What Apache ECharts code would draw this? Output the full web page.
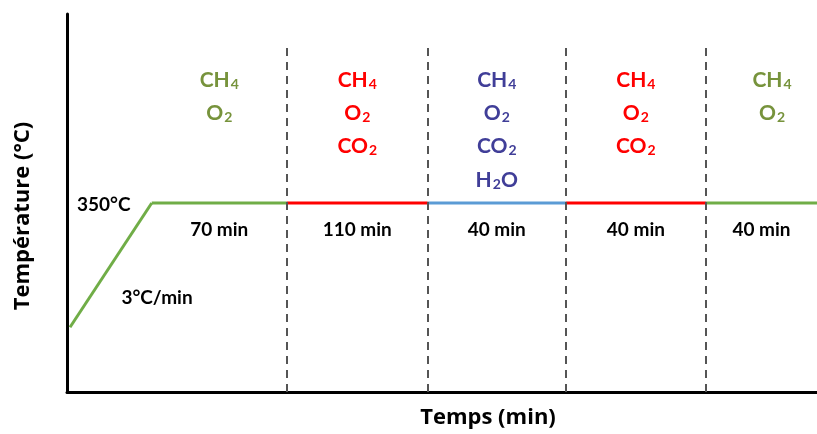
<!DOCTYPE html>
<html><head><meta charset="utf-8">
<script src="https://cdn.jsdelivr.net/npm/echarts@6/dist/echarts.min.js"></script>
<style>html,body{margin:0;padding:0;background:#fff}#c{width:817px;height:434px}</style>
</head><body><div id="c"></div>
<script>
// schematic time positions of the phase boundaries (x axis, 0..100)
const boundaries = [0.4, 11.3, 29.3, 48.1, 66.5, 85.2, 100];
const temps = [120, 350, 350, 350, 350, 350, 350];
const durations = ['70 min', '110 min', '40 min', '40 min', '40 min'];
const gases = [
  ['CH4', 'O2'],
  ['CH4', 'O2', 'CO2'],
  ['CH4', 'O2', 'CO2', 'H2O'],
  ['CH4', 'O2', 'CO2'],
  ['CH4', 'O2']
];
const gasRowY = [578, 517, 456, 393];
const dividers = [29.3, 48.1, 66.5, 85.2];
const phaseColors = ['#70AD47', '#FF0000', '#5B9BD5', '#FF0000', '#70AD47'];
const gasColors = ['#77933C', '#FF0000', '#403E98', '#FF0000', '#77933C'];
const FONT = 'Lato';
const TITLE_FONT = 'Open Sans';

function toRich(s) {
  return s.replace(/([A-Za-z]+)|(\d+)/g, (m, a, d) => a ? '{n|' + a + '}' : '{s|' + d + '}');
}

const series = [];
series.push({
  type: 'line', data: [[boundaries[0], temps[0]], [boundaries[1], temps[1]]],
  symbol: 'none', lineStyle: { color: phaseColors[0], width: 3 }, z: 3
});
for (let i = 0; i < durations.length; i++) {
  series.push({
    type: 'line', data: [[boundaries[i + 1], temps[i + 1]], [boundaries[i + 2], temps[i + 2]]],
    symbol: 'none', lineStyle: { color: phaseColors[i], width: 3 }, z: 3
  });
}
series.push({
  type: 'line', data: [], silent: true,
  markLine: {
    symbol: 'none', silent: true, label: { show: false },
    lineStyle: { color: '#555', type: [8, 6], width: 2 },
    data: dividers.map(x => [{ coord: [x, 0] }, { coord: [x, 640] }])
  }
});
const durData = durations.map((d, i) => {
  let cx = (boundaries[i + 1] + boundaries[i + 2]) / 2;
  return { value: [cx, 300], name: d };
});
series.push({
  type: 'scatter', data: durData, symbolSize: 0, silent: true, itemStyle: { opacity: 1 },
  label: { show: true, position: 'inside', formatter: p => p.name, color: '#000', fontFamily: FONT, fontWeight: 'bold', fontSize: 19 }
});
series.push({
  type: 'scatter', symbolSize: 0, silent: true, itemStyle: { opacity: 1 },
  data: [{ value: [4.9, 347], name: '350°C' }, { value: [12.0, 174], name: '3°C/min' }],
  label: { show: true, position: 'inside', formatter: p => p.name, color: '#000', fontFamily: FONT, fontWeight: 'bold', fontSize: 19 }
});
gases.forEach((g, i) => {
  let cx = (boundaries[i + 1] + boundaries[i + 2]) / 2;
  if (i === 4) cx = 94.0;
  series.push({
    type: 'scatter', symbolSize: 0, silent: true, itemStyle: { opacity: 1 },
    data: g.map((s, r) => ({ value: [cx, gasRowY[r]], name: s })),
    label: {
      show: true, position: 'inside', formatter: p => toRich(p.name),
      rich: {
        n: { color: gasColors[i], fontFamily: FONT, fontSize: 21, fontWeight: 'bold' },
        s: { color: gasColors[i], fontFamily: FONT, fontSize: 14, fontWeight: 'bold', padding: [10, 0, 0, 1] }
      }
    }
  });
});

const chart = echarts.init(document.getElementById('c'), null, { renderer: 'canvas' });
chart.setOption({
  animation: false,
  grid: { left: 67, right: 0, top: 14, bottom: 42, outerBoundsMode: 'none', containLabel: false },
  xAxis: {
    type: 'value', min: 0, max: 100,
    name: 'Temps (min)', nameLocation: 'middle', nameGap: 15,
    nameTextStyle: { fontFamily: TITLE_FONT, fontWeight: 'bold', fontSize: 22, color: '#000', padding: [0, 0, 0, 92] },
    axisLine: { show: true, lineStyle: { color: '#000', width: 3 } },
    axisTick: { show: false }, axisLabel: { show: false }, splitLine: { show: false }
  },
  yAxis: {
    type: 'value', min: 0, max: 700,
    name: 'Température (°C)', nameLocation: 'middle', nameGap: 33,
    nameTextStyle: { fontFamily: TITLE_FONT, fontWeight: 'bold', fontSize: 22, color: '#000', padding: [0, 26, 0, 0] },
    axisLine: { show: true, lineStyle: { color: '#000', width: 3 } },
    axisTick: { show: false }, axisLabel: { show: false }, splitLine: { show: false }
  },
  series: series
});
</script></body></html>
